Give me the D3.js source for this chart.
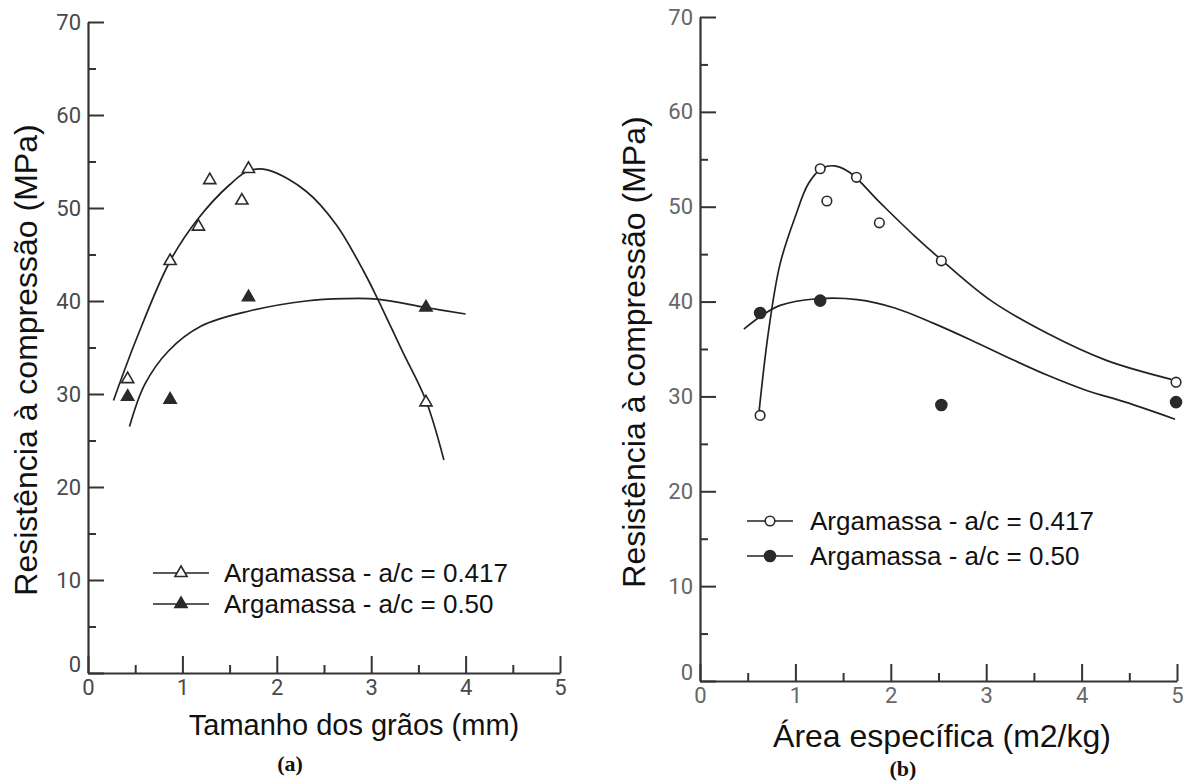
<!DOCTYPE html>
<html>
<head>
<meta charset="utf-8">
<script src="https://cdn.jsdelivr.net/npm/d3@7"></script>
<style>
  body { margin: 0; background: #fff; }
  svg { display: block; }
</style>
</head>
<body>
<svg id="chart" width="1188" height="782"></svg>
<script>
// === Data (a) : tamanho dos grãos ===
const grainOpenX = [0.42, 0.87, 1.17, 1.29, 1.63, 1.70, 3.58];
const grainOpenY = [31.6, 44.3, 48.0, 53.0, 50.8, 54.2, 29.1];
const grainFilledX = [0.42, 0.87, 1.70, 3.58];
const grainFilledY = [29.7, 29.4, 40.4, 39.3];

// curvas ajustadas
const grainOpenCurveX = [0.27, 0.52, 0.87, 1.17, 1.50, 1.70, 1.90, 2.31, 2.63, 2.92, 3.06, 3.33, 3.58, 3.77];
const grainOpenCurveY = [29.3, 36.1, 44.3, 48.9, 52.5, 54.0, 54.1, 51.8, 48.2, 43.2, 40.4, 34.6, 29.3, 22.9];
const grainFilledCurveX = [0.44, 0.60, 0.85, 1.20, 1.70, 2.31, 2.72, 3.06, 3.58, 4.00];
const grainFilledCurveY = [26.5, 31.0, 34.6, 37.3, 38.9, 40.0, 40.25, 40.2, 39.3, 38.6];

// === Data (b) : área específica ===
const areaOpenX = [0.63, 1.26, 1.33, 1.64, 1.88, 2.53, 4.99];
const areaOpenY = [28.0, 54.0, 50.6, 53.1, 48.3, 44.3, 31.5];
const areaFilledX = [0.63, 1.26, 2.53, 4.99];
const areaFilledY = [38.8, 40.1, 29.1, 29.4];

const areaOpenCurveX = [0.62, 0.72, 0.84, 1.00, 1.14, 1.29, 1.41, 1.57, 1.89, 2.25, 2.53, 3.05, 3.65, 4.26, 4.94];
const areaOpenCurveY = [28.5, 37.0, 44.0, 49.0, 52.5, 54.1, 54.3, 53.6, 50.4, 46.9, 44.4, 40.1, 36.6, 33.8, 31.8];
const areaFilledCurveX = [0.46, 0.63, 0.84, 1.24, 1.65, 2.05, 2.45, 2.85, 3.25, 3.65, 4.06, 4.46, 4.98];
const areaFilledCurveY = [37.1, 38.4, 39.6, 40.3, 40.2, 39.3, 37.7, 35.9, 34.0, 32.2, 30.6, 29.4, 27.6];

// eixos
const yMajorTicks = [0, 10, 20, 30, 40, 50, 60, 70];
const yMinorTicks = [5, 15, 25, 35, 45, 55, 65];
const xMajorTicks = [0, 1, 2, 3, 4, 5];
const xMinorTicks = [0.5, 1.5, 2.5, 3.5, 4.5];

const legendLabels = ["Argamassa - a/c = 0.417", "Argamassa - a/c = 0.50"];

const zip = (xs, ys) => xs.map((x, i) => ({ x: x, y: ys[i] }));

const svg = d3.select("#chart");

// === Paineis ===
const panels = [
  {
    xRange: [88, 560], yRange: [673, 22],
    open: zip(grainOpenX, grainOpenY), filled: zip(grainFilledX, grainFilledY),
    openCurve: zip(grainOpenCurveX, grainOpenCurveY), filledCurve: zip(grainFilledCurveX, grainFilledCurveY),
    marker: "triangle", tickColor: "#4a4a4a",
    yTitle: { x: 26, y: 360 }, xTitle: { text: "Tamanho dos grãos (mm)", x: 354, y: 725, size: 29 },
    caption: { text: "(a)", x: 290, y: 763 },
    legend: { x1: 153, x2: 209, tx: 224, rows: [573, 604] }
  },
  {
    xRange: [700, 1177], yRange: [681, 17],
    open: zip(areaOpenX, areaOpenY), filled: zip(areaFilledX, areaFilledY),
    openCurve: zip(areaOpenCurveX, areaOpenCurveY), filledCurve: zip(areaFilledCurveX, areaFilledCurveY),
    marker: "circle", tickColor: "#666",
    yTitle: { x: 634, y: 352 }, xTitle: { text: "Área específica (m2/kg)", x: 942, y: 736, size: 32 },
    caption: { text: "(b)", x: 903, y: 768 },
    legend: { x1: 747, x2: 793, tx: 810, rows: [521, 556] }
  }
];

function drawMarker(g, type, filled, cx, cy) {
  if (type === "triangle") {
    g.append("path")
      .attr("d", d3.symbol().type(d3.symbolTriangle).size(64)())
      .attr("transform", `translate(${cx},${cy})`)
      .attr("fill", filled ? "#2a2a2a" : "#fff")
      .attr("stroke", "#2a2a2a")
      .attr("stroke-width", 1.6);
  } else {
    g.append("circle")
      .attr("cx", cx).attr("cy", cy)
      .attr("r", filled ? 5.5 : 4.8)
      .attr("fill", filled ? "#2a2a2a" : "#fff")
      .attr("stroke", "#2a2a2a")
      .attr("stroke-width", 1.6);
  }
}

panels.forEach(p => {
  const x = d3.scaleLinear().domain([0, 5]).range(p.xRange);
  const y = d3.scaleLinear().domain([0, 70]).range(p.yRange);
  const g = svg.append("g");

  // Y-eixo (ticks para dentro)
  const yAxis = g.append("g")
    .attr("transform", `translate(${p.xRange[0]},0)`)
    .call(d3.axisLeft(y).tickValues(yMajorTicks).tickSize(-16).tickSizeOuter(0).tickPadding(7));
  g.append("g")
    .attr("transform", `translate(${p.xRange[0]},0)`)
    .call(d3.axisLeft(y).tickValues(yMinorTicks).tickSize(-8).tickFormat(""))
    .select(".domain").remove();

  // X-eixo
  g.append("g")
    .attr("transform", `translate(0,${p.yRange[0]})`)
    .call(d3.axisBottom(x).tickValues(xMajorTicks).tickFormat(d3.format("d"))
      .tickSize(-17).tickSizeOuter(0).tickPadding(6));
  g.append("g")
    .attr("transform", `translate(0,${p.yRange[0]})`)
    .call(d3.axisBottom(x).tickValues(xMinorTicks).tickSize(-8).tickFormat(""))
    .select(".domain").remove();

  g.selectAll(".domain").attr("stroke", "#333").attr("stroke-width", 2.2);
  g.selectAll(".tick line").attr("stroke", "#333").attr("stroke-width", 2);
  g.selectAll(".tick text")
    .attr("font-family", "Roboto, sans-serif")
    .attr("font-size", 22)
    .attr("fill", p.tickColor);
  // o zero do eixo Y fica um pouco acima da linha
  yAxis.selectAll(".tick text").attr("dy", d => d === 0 ? "-0.05em" : "0.32em");

  // Curvas
  const line = d3.line()
    .x(d => x(d.x))
    .y(d => y(d.y))
    .curve(d3.curveCatmullRom.alpha(0.5));

  [p.openCurve, p.filledCurve].forEach(c => {
    g.append("path")
      .datum(c)
      .attr("d", line)
      .attr("fill", "none")
      .attr("stroke", "#222")
      .attr("stroke-width", 1.7);
  });

  // Pontos
  p.open.forEach(d => drawMarker(g, p.marker, false, x(d.x), y(d.y)));
  p.filled.forEach(d => drawMarker(g, p.marker, true, x(d.x), y(d.y)));

  // Legenda
  legendLabels.forEach((label, i) => {
    const ly = p.legend.rows[i];
    g.append("line")
      .attr("x1", p.legend.x1).attr("x2", p.legend.x2)
      .attr("y1", ly).attr("y2", ly)
      .attr("stroke", "#222").attr("stroke-width", 1.7);
    drawMarker(g, p.marker, i === 1, (p.legend.x1 + p.legend.x2) / 2, ly);
    g.append("text")
      .attr("x", p.legend.tx).attr("y", ly)
      .attr("dy", "0.35em")
      .attr("font-family", "Liberation Sans, Arial, sans-serif")
      .attr("font-size", 26)
      .attr("fill", "#111")
      .text(label);
  });

  // Titulos
  g.append("text")
    .attr("transform", `translate(${p.yTitle.x},${p.yTitle.y}) rotate(-90)`)
    .attr("text-anchor", "middle")
    .attr("dy", "0.35em")
    .attr("font-family", "Liberation Sans, Arial, sans-serif")
    .attr("font-size", 32)
    .attr("fill", "#111")
    .text("Resistência à compressão (MPa)");

  g.append("text")
    .attr("x", p.xTitle.x).attr("y", p.xTitle.y)
    .attr("text-anchor", "middle")
    .attr("dy", "0.35em")
    .attr("font-family", "Liberation Sans, Arial, sans-serif")
    .attr("font-size", p.xTitle.size)
    .attr("fill", "#111")
    .text(p.xTitle.text);

  g.append("text")
    .attr("x", p.caption.x).attr("y", p.caption.y)
    .attr("text-anchor", "middle")
    .attr("dy", "0.35em")
    .attr("font-family", "Liberation Serif, Times New Roman, serif")
    .attr("font-weight", "bold")
    .attr("font-size", 22)
    .attr("fill", "#111")
    .text(p.caption.text);
});
</script>
</body>
</html>
